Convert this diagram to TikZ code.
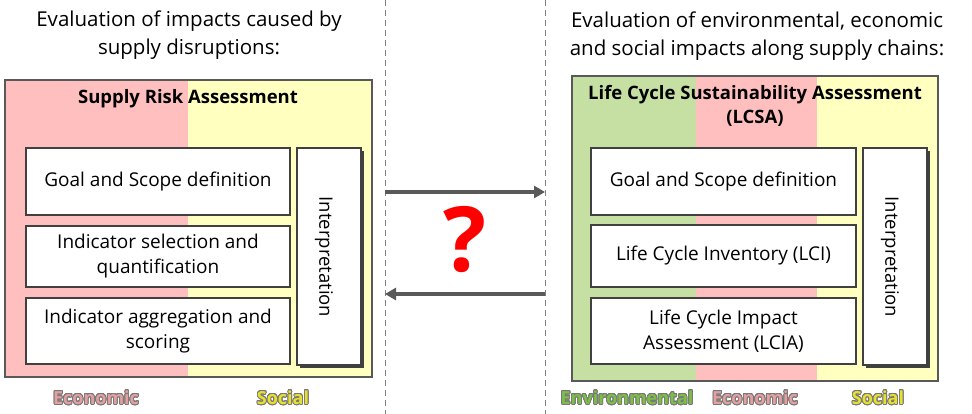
\documentclass[tikz,border=0pt]{standalone}
\usepackage{fontspec}
\setmainfont{Open Sans}
\usepackage[copies]{contour}
\contourlength{0.8pt}
\contournumber{24}
\usetikzlibrary{arrows.meta}
\definecolor{pinkbg}{RGB}{255,191,191}
\definecolor{yellowbg}{RGB}{255,255,192}
\definecolor{greenbg}{RGB}{198,224,164}
\definecolor{frame}{RGB}{89,89,89}
\definecolor{boxline}{RGB}{64,64,64}
\definecolor{arrowgray}{RGB}{89,89,89}
\definecolor{dashgray}{RGB}{128,128,128}
\definecolor{econ}{RGB}{228,160,160}
\definecolor{soc}{RGB}{232,224,48}
\definecolor{env}{RGB}{125,190,70}
\definecolor{outl}{RGB}{120,120,120}
\tikzset{
  stepbox/.style={draw=boxline, line width=2.2pt, fill=white, align=center, inner sep=2pt,
    font=\fontsize{19}{25}\selectfont},
  framebox/.style={draw=frame, line width=2.6pt, inner sep=0pt},
  header/.style={align=center, font=\fontsize{20.5}{28}\selectfont},
  titletext/.style={align=center, font=\fontsize{18.5}{24}\selectfont\bfseries},
  pillar/.style={font=\fontsize{18}{20}\selectfont\bfseries},
  divider/.style={draw=dashgray, line width=1pt, dash pattern=on 6pt off 4pt},
  flow/.style={draw=arrowgray, line width=3.5pt, -{Triangle[length=11pt,width=12pt]}},
}
\begin{document}
\begin{tikzpicture}[x=1pt,y=-1pt]
\useasboundingbox (0,0) rectangle (972,414);

% headers
\node[header] (hl) at (189,35) {Evaluation of impacts caused by\\supply disruptions:};
\node[header] (hr) at (757,36) {Evaluation of environmental, economic\\and social impacts along supply chains:};

% left panel backgrounds
\fill[pinkbg] (5,80) rectangle (188,377);
\fill[yellowbg] (188,80) rectangle (372,377);
\node[framebox, minimum width=367pt, minimum height=297pt] (sra) at (188.5,228.5) {};
\node[titletext] (srat) at (188,99) {Supply Risk Assessment};

\node[stepbox, minimum width=264pt, minimum height=67pt] (lgoal) at (158,181.5) {Goal and Scope definition};
\node[stepbox, minimum width=264pt, minimum height=61pt] (lsel) at (158,256.5) {Indicator selection and\\quantification};
\node[stepbox, minimum width=264pt, minimum height=66pt] (lagg) at (158,331) {Indicator aggregation and\\scoring};
\fill[boxline] (300,151) rectangle (364,368);
\node[stepbox, minimum width=64pt, minimum height=217pt] (lint) at (329,256.5) {};
\node[rotate=-90, font=\fontsize{18.5}{21}\selectfont] (lintt) at (324,257) {Interpretation};

\node[pillar] (le) at (96,398) {\contour{outl}{\textcolor{econ}{Economic}}};
\node[pillar] (ls) at (283,398) {\contour{outl}{\textcolor{soc}{Social}}};

% right panel backgrounds
\fill[greenbg] (572,76) rectangle (696,381);
\fill[pinkbg] (696,76) rectangle (817,381);
\fill[yellowbg] (817,76) rectangle (938,381);
\node[framebox, minimum width=366pt, minimum height=305pt] (lcsa) at (755,228.5) {};
\node[titletext] (lcsat) at (755,106) {Life Cycle Sustainability Assessment\\(LCSA)};

\node[stepbox, minimum width=265pt, minimum height=67pt] (rgoal) at (723.5,181.5) {Goal and Scope definition};
\node[stepbox, minimum width=265pt, minimum height=62pt] (rlci) at (723.5,256) {Life Cycle Inventory (LCI)};
\node[stepbox, minimum width=265pt, minimum height=66pt] (rlcia) at (723.5,331) {Life Cycle Impact\\Assessment (LCIA)};
\fill[boxline] (866,151) rectangle (930,368);
\node[stepbox, minimum width=64pt, minimum height=217pt] (rint) at (895,256.5) {};
\node[rotate=-90, font=\fontsize{18.5}{21}\selectfont] (rintt) at (890,257) {Interpretation};

\node[pillar] (re) at (627,398) {\contour{outl}{\textcolor{env}{Environmental}}};
\node[pillar] (rec) at (755,398) {\contour{outl}{\textcolor{econ}{Economic}}};
\node[pillar] (rs) at (878,398) {\contour{outl}{\textcolor{soc}{Social}}};

% dividers
\coordinate (d1t) at (385,0);
\coordinate (d1b) at (385,414);
\coordinate (d2t) at (545,0);
\coordinate (d2b) at (545,414);
\draw[divider] (d1t) -- (d1b);
\draw[divider] (d2t) -- (d2b);

% arrows
\coordinate (a1s) at (385,192);
\coordinate (a1e) at (545,192);
\coordinate (a2s) at (545,294);
\coordinate (a2e) at (385,294);
\draw[flow] (a1s) -- (a1e);
\draw[flow] (a2s) -- (a2e);

\node[text=red, font=\fontsize{90}{90}\selectfont\bfseries] (q) at (465,240) {?};
\end{tikzpicture}
\end{document}
